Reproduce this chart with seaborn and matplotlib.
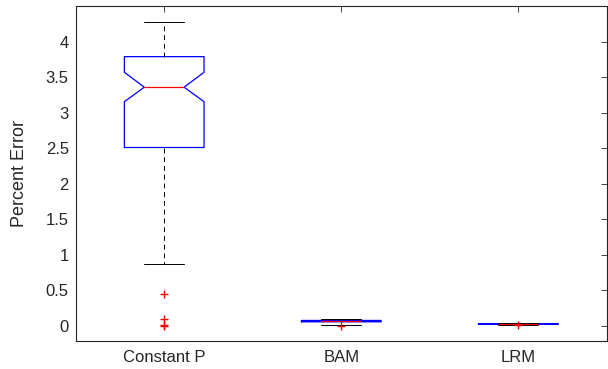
import numpy as np
import matplotlib
matplotlib.use("Agg")
import matplotlib.pyplot as plt
import seaborn as sns

# ---- data ----
categories = ["Constant P", "BAM", "LRM"]
whisker_low = [0.87, 0.014, 0.012]
q1 = [2.51, 0.055, 0.019]
median = [3.36, 0.065, 0.022]
q3 = [3.79, 0.074, 0.028]
whisker_high = [4.28, 0.090, 0.032]
notch_low = [3.155, 0.060, 0.020]
notch_high = [3.57, 0.070, 0.025]
outliers = [[0.446, 0.10, 0.012, 0.0], [0.0], [0.005]]
y_ticks = [0, 0.5, 1, 1.5, 2, 2.5, 3, 3.5, 4]
y_tick_labels = ["0", "0.5", "1", "1.5", "2", "2.5", "3", "3.5", "4"]

sns.set_style("white")
plt.rcParams["font.family"] = ["Liberation Sans", "DejaVu Sans"]

fig = plt.figure(figsize=(6.08, 3.69), dpi=100)
ax = fig.add_axes([0.1245, 0.075, 0.998 - 0.1245, 0.9837 - 0.075])

stats = []
for i, name in enumerate(categories):
    stats.append(dict(label=name, whislo=whisker_low[i], q1=q1[i], med=median[i],
                      q3=q3[i], whishi=whisker_high[i], cilo=notch_low[i],
                      cihi=notch_high[i], fliers=np.array(outliers[i])))

positions = np.arange(1, len(categories) + 1)
ax.bxp(stats, positions=positions, widths=0.45, shownotches=True,
       manage_ticks=False,
       boxprops=dict(color=(0, 0, 1), linewidth=0.9),
       medianprops=dict(color=(1, 0, 0), linewidth=0.9),
       whiskerprops=dict(color="black", linewidth=0.7, linestyle=(0, (5, 4))),
       capprops=dict(color="black", linewidth=0.7),
       flierprops=dict(marker="+", markeredgecolor=(1, 0, 0), markersize=6,
                       markeredgewidth=1.0, linestyle="none"))

ax.set_xlim(0.5, 3.5)
ax.set_ylim(-0.22, 4.503)
ax.set_xticks(positions)
ax.set_xticklabels(categories)
ax.set_yticks(y_ticks)
ax.set_yticklabels(y_tick_labels)
ax.set_ylabel("Percent Error", fontsize=13, color="#262626")
ax.yaxis.set_label_coords(-0.09, 0.5)

ax.tick_params(axis="both", direction="in", length=4, width=0.6, colors="#262626",
               labelsize=12, top=True, right=True, pad=5)
ax.tick_params(axis="x", pad=6)
for s in ax.spines.values():
    s.set_color("#262626")
    s.set_linewidth(0.8)
    s.set_visible(True)

fig.savefig("out.png", dpi=100)
